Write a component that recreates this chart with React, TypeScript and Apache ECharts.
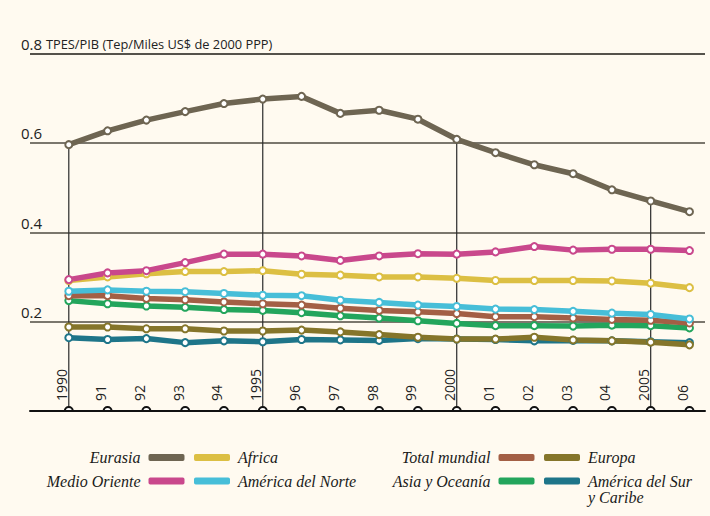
import React, { useEffect, useRef } from "react";
import * as echarts from "echarts";

const BG = "#fffaf0";

const years = [1990, 1991, 1992, 1993, 1994, 1995, 1996, 1997, 1998, 1999, 2000, 2001, 2002, 2003, 2004, 2005, 2006];
const dropYears = [1990, 1995, 2000, 2005];

const eurasia = [0.596, 0.627, 0.651, 0.670, 0.688, 0.698, 0.704, 0.666, 0.673, 0.653, 0.608, 0.578, 0.551, 0.531, 0.495, 0.470, 0.446];
const africa = [0.292, 0.300, 0.307, 0.312, 0.312, 0.314, 0.306, 0.304, 0.300, 0.300, 0.297, 0.292, 0.292, 0.292, 0.291, 0.286, 0.276];
const medioOriente = [0.294, 0.309, 0.314, 0.332, 0.351, 0.351, 0.347, 0.337, 0.347, 0.352, 0.351, 0.356, 0.368, 0.360, 0.362, 0.362, 0.359];
const americaNorte = [0.268, 0.271, 0.268, 0.267, 0.263, 0.259, 0.258, 0.248, 0.243, 0.237, 0.234, 0.228, 0.227, 0.223, 0.219, 0.216, 0.206];
const totalMundial = [0.258, 0.258, 0.252, 0.249, 0.244, 0.240, 0.237, 0.230, 0.225, 0.222, 0.218, 0.211, 0.211, 0.208, 0.205, 0.203, 0.197];
const asiaOceania = [0.247, 0.240, 0.235, 0.232, 0.227, 0.225, 0.220, 0.213, 0.208, 0.202, 0.196, 0.191, 0.191, 0.190, 0.192, 0.191, 0.186];
const europa = [0.188, 0.188, 0.184, 0.184, 0.179, 0.179, 0.181, 0.177, 0.171, 0.165, 0.161, 0.161, 0.165, 0.159, 0.157, 0.154, 0.148];
const americaSur = [0.164, 0.160, 0.162, 0.153, 0.157, 0.155, 0.160, 0.159, 0.158, 0.162, 0.161, 0.160, 0.157, 0.158, 0.157, 0.155, 0.153];

const yTicks = [0, 0.2, 0.4, 0.6, 0.8];
const unitLabel = "TPES/PIB (Tep/Miles US$ de 2000 PPP)";

const seriesDefs = [
  { name: "América del Sur y Caribe", data: americaSur, color: "#1e7589" },
  { name: "Europa", data: europa, color: "#85752a" },
  { name: "Asia y Oceanía", data: asiaOceania, color: "#23a55c" },
  { name: "Total mundial", data: totalMundial, color: "#a35f45" },
  { name: "América del Norte", data: americaNorte, color: "#47bed8" },
  { name: "Africa", data: africa, color: "#dcbf43" },
  { name: "Medio Oriente", data: medioOriente, color: "#c9488c" },
  { name: "Eurasia", data: eurasia, color: "#6e6552" },
];

export default function App() {
  const ref = useRef<HTMLDivElement>(null);

  useEffect(() => {
    document.body.style.margin = "0";
    const chart = echarts.init(ref.current!, null, { renderer: "svg" });

    const legendBase: any = {
      orient: "vertical",
      itemWidth: 36,
      itemHeight: 7,
      itemGap: 7.6,
      icon: "roundRect",
      padding: 0,
      top: 449.5,
      selectedMode: false,
      itemStyle: { borderWidth: 0 },
      textStyle: {
        fontFamily: "Liberation Serif",
        fontStyle: "italic",
        fontSize: 16,
        color: "#1a1a1a",
        padding: [0, 3, 0, 3],
      },
    };

    const dropData = dropYears.map((y) => [y, eurasia[years.indexOf(y)]]);

    const option: any = {
      animation: false,
      backgroundColor: BG,
      grid: { left: 30, right: 5, top: 53.5, bottom: 105 },
      xAxis: {
        type: "value",
        min: 1989,
        max: 2006.4,
        interval: 1,
        axisLine: { show: true, onZero: false, lineStyle: { color: "#111", width: 2 } },
        axisTick: { show: false },
        splitLine: { show: false },
        axisLabel: {
          inside: true,
          rotate: 90,
          align: "left",
          verticalAlign: "bottom",
          margin: 10,
          fontFamily: "Open Sans",
          fontSize: 14,
          color: "#222",
          showMinLabel: true,
          showMaxLabel: false,
          formatter: (v: number) => {
            if (v < 1990 || v > 2006 || Math.round(v) !== v) return "";
            if (v % 5 === 0) return String(v);
            return String(v).slice(2);
          },
        },
      },
      yAxis: {
        type: "value",
        min: yTicks[0],
        max: yTicks[yTicks.length - 1],
        interval: 0.2,
        axisLine: { show: false },
        axisTick: { show: false },
        splitLine: {
          show: true,
          lineStyle: { color: ["#111", "#7b776d", "#7b776d", "#7b776d", "#55524b"], width: 2 },
        },
        axisLabel: {
          align: "left",
          verticalAlign: "bottom",
          margin: 9,
          padding: [0, 0, 2, 0],
          fontFamily: "Open Sans",
          fontSize: 15,
          color: "#222",
          formatter: (v: number) => {
            const r = Math.round(v * 10) / 10;
            if (r === 0) return "";
            if (r === 0.8) return "{a|0.8} {b|" + unitLabel + "}";
            return r.toFixed(1);
          },
          rich: {
            a: { fontFamily: "Open Sans", fontSize: 15, color: "#222" },
            b: { fontFamily: "Open Sans", fontSize: 12.8, color: "#222" },
          },
        },
      },
      legend: [
        { ...legendBase, data: ["Eurasia", "Medio Oriente"], align: "right", right: 710 - 184.5 },
        { ...legendBase, data: ["Africa", "América del Norte"], align: "left", left: 194 },
        { ...legendBase, data: ["Total mundial", "Asia y Oceanía"], align: "right", right: 710 - 534.5 },
        {
          ...legendBase,
          data: ["Europa", "América del Sur y Caribe"],
          align: "left",
          left: 544,
          formatter: (n: string) => (n === "América del Sur y Caribe" ? "América del Sur" : n),
        },
      ],
      graphic: [
        {
          type: "text",
          left: 588,
          top: 489.5,
          style: {
            text: "y Caribe",
            fontFamily: "Liberation Serif",
            fontStyle: "italic",
            fontSize: 16,
            fill: "#1a1a1a",
          },
        },
      ],
      series: [
        {
          type: "custom",
          name: "drop",
          silent: true,
          data: dropData,
          encode: { x: 0, y: 1 },
          renderItem: (params: any, api: any) => {
            const x = api.value(0);
            const v = api.value(1);
            const p0 = api.coord([x, 0]);
            const p1 = api.coord([x, v]);
            return {
              type: "line",
              shape: { x1: p0[0], y1: p0[1], x2: p1[0], y2: p1[1] },
              style: { stroke: "#2a2a2a", lineWidth: 1.2 },
            };
          },
          z: 1,
        },
        ...seriesDefs.map((s) => ({
          type: "line",
          name: s.name,
          data: years.map((y, i) => [y, s.data[i]]),
          color: s.color,
          symbol: "emptyCircle",
          symbolSize: 7,
          showAllSymbol: true,
          lineStyle: { color: s.color, width: 5.5 },
          itemStyle: { color: s.color, borderColor: s.color, borderWidth: 2.2 },
          z: 2,
        })),
        {
          type: "custom",
          name: "ticks",
          silent: true,
          data: years.map((y) => [y, 0]),
          encode: { x: 0, y: 1 },
          renderItem: (params: any, api: any) => {
            const p = api.coord([api.value(0), 0]);
            return {
              type: "sector",
              shape: { cx: p[0], cy: p[1], r: 4, r0: 0, startAngle: Math.PI, endAngle: 2 * Math.PI, clockwise: true },
              style: { fill: "#fff", stroke: "#111", lineWidth: 2 },
            };
          },
          z: 3,
        },
      ],
    };

    chart.setOption(option);
    return () => chart.dispose();
  }, []);

  return <div ref={ref} style={{ width: 710, height: 516, background: BG }} />;
}
